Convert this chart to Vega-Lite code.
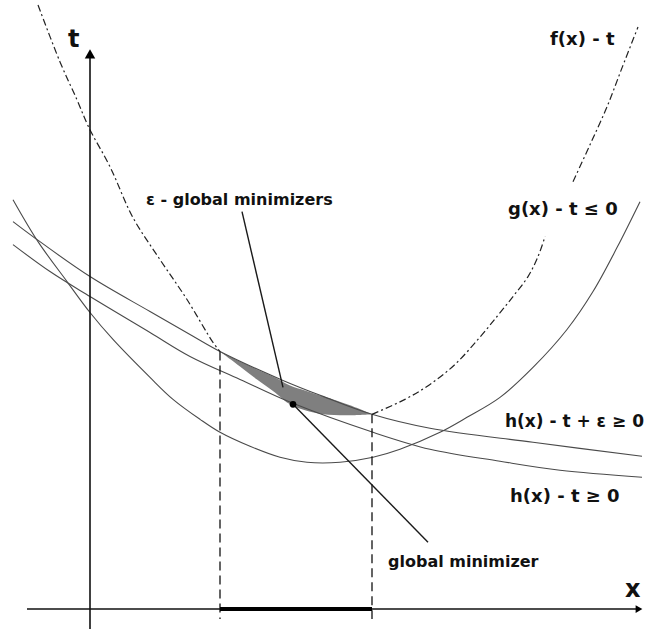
{
  "$schema": "https://vega.github.io/schema/vega-lite/v6.json",
  "width": 645,
  "height": 630,
  "autosize": {"type": "fit", "contains": "padding"},
  "padding": 0,
  "background": "white",
  "config": {"view": {"stroke": null}},
  "datasets": {
    "shade": [
      {"X": 130, "lo": 258, "hi": 258},
      {"X": 150, "lo": 243, "hi": 248},
      {"X": 167, "lo": 230, "hi": 240},
      {"X": 185, "lo": 217, "hi": 232},
      {"X": 200, "lo": 205, "hi": 224},
      {"X": 215, "lo": 199, "hi": 219},
      {"X": 233, "lo": 195, "hi": 213},
      {"X": 260, "lo": 194, "hi": 204},
      {"X": 282, "lo": 195, "hi": 195}
    ],
    "solid": [
      {"s": "g", "X": -77, "T": 410}, {"s": "g", "X": -52, "T": 368}, {"s": "g", "X": -23, "T": 328},
      {"s": "g", "X": 0, "T": 297}, {"s": "g", "X": 23, "T": 270}, {"s": "g", "X": 60, "T": 232},
      {"s": "g", "X": 83, "T": 210}, {"s": "g", "X": 110, "T": 190}, {"s": "g", "X": 130, "T": 177},
      {"s": "g", "X": 160, "T": 163}, {"s": "g", "X": 190, "T": 152}, {"s": "g", "X": 217, "T": 147},
      {"s": "g", "X": 250, "T": 147}, {"s": "g", "X": 283, "T": 152}, {"s": "g", "X": 310, "T": 160},
      {"s": "g", "X": 350, "T": 177}, {"s": "g", "X": 377, "T": 192}, {"s": "g", "X": 410, "T": 212},
      {"s": "g", "X": 443, "T": 242}, {"s": "g", "X": 477, "T": 280}, {"s": "g", "X": 503, "T": 318},
      {"s": "g", "X": 527, "T": 362}, {"s": "g", "X": 550, "T": 408},
      {"s": "he", "X": -77, "T": 388}, {"s": "he", "X": -57, "T": 373}, {"s": "he", "X": 0, "T": 333},
      {"s": "he", "X": 60, "T": 298}, {"s": "he", "X": 100, "T": 275}, {"s": "he", "X": 130, "T": 258},
      {"s": "he", "X": 193, "T": 229}, {"s": "he", "X": 233, "T": 213}, {"s": "he", "X": 282, "T": 195},
      {"s": "he", "X": 340, "T": 181}, {"s": "he", "X": 443, "T": 167}, {"s": "he", "X": 552, "T": 153},
      {"s": "h", "X": -77, "T": 365}, {"s": "h", "X": -40, "T": 338}, {"s": "h", "X": 0, "T": 313},
      {"s": "h", "X": 60, "T": 277}, {"s": "h", "X": 100, "T": 253}, {"s": "h", "X": 150, "T": 230},
      {"s": "h", "X": 203, "T": 206}, {"s": "h", "X": 283, "T": 177}, {"s": "h", "X": 340, "T": 160},
      {"s": "h", "X": 410, "T": 148}, {"s": "h", "X": 470, "T": 139}, {"s": "h", "X": 552, "T": 132}
    ],
    "fcurve": [
      {"s": "f1", "X": -52, "T": 605}, {"s": "f1", "X": -30, "T": 548}, {"s": "f1", "X": -13, "T": 510},
      {"s": "f1", "X": -1, "T": 482}, {"s": "f1", "X": 20, "T": 443}, {"s": "f1", "X": 43, "T": 392},
      {"s": "f1", "X": 70, "T": 350}, {"s": "f1", "X": 97, "T": 310}, {"s": "f1", "X": 123, "T": 267},
      {"s": "f1", "X": 130, "T": 258},
      {"s": "f2", "X": 282, "T": 195}, {"s": "f2", "X": 315, "T": 210}, {"s": "f2", "X": 340, "T": 225},
      {"s": "f2", "X": 365, "T": 245}, {"s": "f2", "X": 388, "T": 270}, {"s": "f2", "X": 407, "T": 293},
      {"s": "f2", "X": 423, "T": 313}, {"s": "f2", "X": 438, "T": 333}, {"s": "f2", "X": 448, "T": 353},
      {"s": "f2", "X": 455, "T": 373},
      {"s": "f3", "X": 483, "T": 428}, {"s": "f3", "X": 500, "T": 465}, {"s": "f3", "X": 517, "T": 503},
      {"s": "f3", "X": 532, "T": 542}, {"s": "f3", "X": 548, "T": 583}
    ],
    "axes": [
      {"X": 0, "T": -20, "X2": 0, "T2": 552},
      {"X": -63, "T": 0, "X2": 548, "T2": 0}
    ],
    "pointers": [
      {"X": 152, "T": 398, "X2": 193, "T2": 222},
      {"X": 203, "T": 205, "X2": 338, "T2": 67}
    ],
    "dashed": [
      {"X": 130, "T": 258, "X2": 130, "T2": -10},
      {"X": 282, "T": 195, "X2": 282, "T2": -10}
    ],
    "bold": [
      {"X": 130, "T": 0, "X2": 282, "T2": 0}
    ],
    "dot": [{"X": 203, "T": 205}],
    "arrowUp": [{"X": 0, "T": 556}],
    "arrowRight": [{"X": 549, "T": 0}],
    "labels": [
      {"X": -22, "T": 563, "label": "t", "fs": 24},
      {"X": 460, "T": 565, "label": "f(x) - t", "fs": 18},
      {"X": 418, "T": 395, "label": "g(x) - t ≤ 0", "fs": 18},
      {"X": 56, "T": 405, "label": "ε - global minimizers", "fs": 16},
      {"X": 420, "T": 107, "label": "h(x) - t ≥ 0", "fs": 18},
      {"X": 298, "T": 42, "label": "global minimizer", "fs": 16},
      {"X": 535, "T": 12, "label": "x", "fs": 24}
    ],
    "rlabels": [
      {"X": 554, "T": 182, "label": "h(x) - t + ε ≥ 0", "fs": 17}
    ]
  },
  "resolve": {"scale": {"x": "shared", "y": "shared"}},
  "encoding": {
    "x": {"field": "X", "type": "quantitative", "scale": {"domain": [-90, 555], "nice": false, "zero": false}, "axis": null},
    "y": {"field": "T", "type": "quantitative", "scale": {"domain": [-20, 610], "nice": false, "zero": false}, "axis": null}
  },
  "layer": [
    {
      "data": {"name": "shade"},
      "mark": {"type": "area", "color": "#7f7f7f", "opacity": 1, "interpolate": "catmull-rom"},
      "encoding": {
        "y": {"field": "lo", "type": "quantitative"},
        "y2": {"field": "hi"}
      }
    },
    {
      "data": {"name": "solid"},
      "mark": {"type": "line", "color": "#4a4a4a", "strokeWidth": 1.1, "interpolate": "catmull-rom"},
      "encoding": {"detail": {"field": "s"}}
    },
    {
      "data": {"name": "fcurve"},
      "mark": {"type": "line", "color": "#222222", "strokeWidth": 1.2, "interpolate": "catmull-rom", "strokeDash": [7, 3, 2, 3]},
      "encoding": {"detail": {"field": "s"}}
    },
    {
      "data": {"name": "dashed"},
      "mark": {"type": "rule", "color": "#111111", "strokeWidth": 1.3, "strokeDash": [9, 5]},
      "encoding": {"x2": {"field": "X2"}, "y2": {"field": "T2"}}
    },
    {
      "data": {"name": "axes"},
      "mark": {"type": "rule", "color": "#111111", "strokeWidth": 1.6},
      "encoding": {"x2": {"field": "X2"}, "y2": {"field": "T2"}}
    },
    {
      "data": {"name": "pointers"},
      "mark": {"type": "rule", "color": "#1a1a1a", "strokeWidth": 1.4},
      "encoding": {"x2": {"field": "X2"}, "y2": {"field": "T2"}}
    },
    {
      "data": {"name": "bold"},
      "mark": {"type": "rule", "color": "#000000", "strokeWidth": 4},
      "encoding": {"x2": {"field": "X2"}, "y2": {"field": "T2"}}
    },
    {
      "data": {"name": "dot"},
      "mark": {"type": "point", "shape": "circle", "filled": true, "color": "#000000", "size": 45, "opacity": 1}
    },
    {
      "data": {"name": "arrowUp"},
      "mark": {"type": "point", "shape": "triangle-up", "filled": true, "color": "#000000", "size": 110, "opacity": 1}
    },
    {
      "data": {"name": "arrowRight"},
      "mark": {"type": "point", "shape": "triangle-right", "filled": true, "color": "#000000", "size": 60, "opacity": 1}
    },
    {
      "data": {"name": "labels"},
      "mark": {"type": "text", "align": "left", "baseline": "alphabetic", "font": "DejaVu Sans", "fontWeight": "bold", "color": "#111111"},
      "encoding": {
        "text": {"field": "label"},
        "size": {"field": "fs", "type": "quantitative", "scale": null}
      }
    },
    {
      "data": {"name": "rlabels"},
      "mark": {"type": "text", "align": "right", "baseline": "alphabetic", "font": "DejaVu Sans", "fontWeight": "bold", "color": "#111111"},
      "encoding": {
        "text": {"field": "label"},
        "size": {"field": "fs", "type": "quantitative", "scale": null}
      }
    }
  ]
}
